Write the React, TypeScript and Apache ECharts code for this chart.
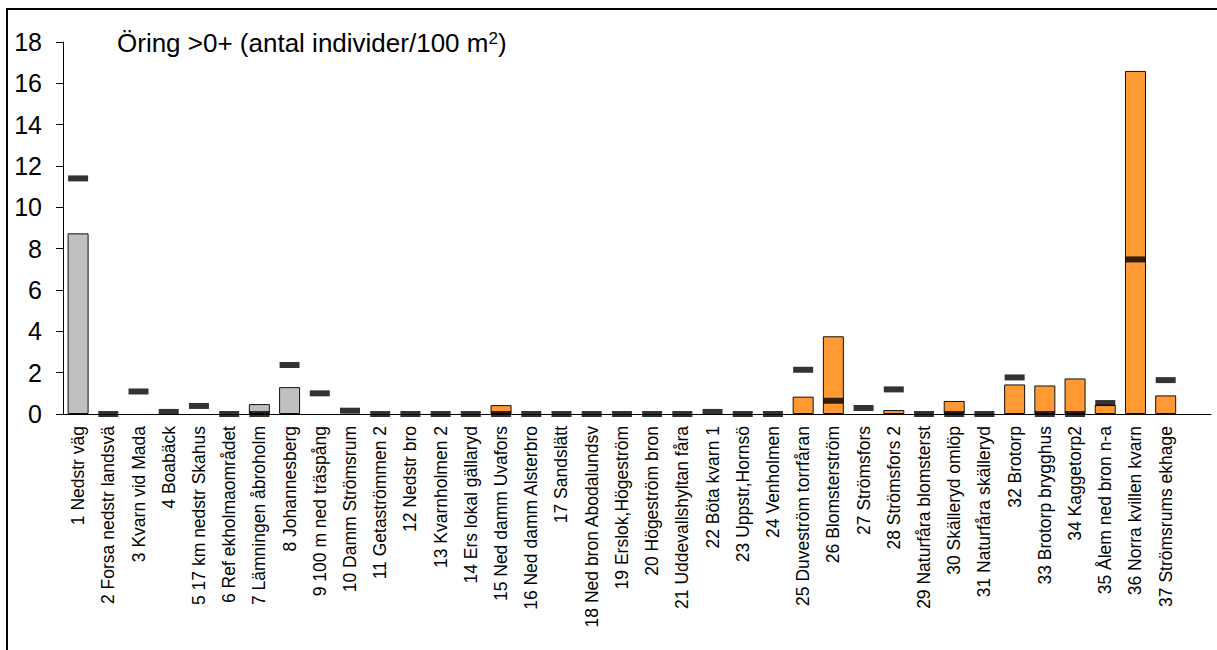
import React, { useEffect, useRef } from "react";
import * as echarts from "echarts";

const categories = [
  "1 Nedstr väg",
  "2 Forsa nedstr landsvä",
  "3 Kvarn vid Mada",
  "4 Boabäck",
  "5 17 km nedstr Skahus",
  "6 Ref ekholmaområdet",
  "7 Lämningen åbroholm",
  "8 Johannesberg",
  "9 100 m ned träspång",
  "10 Damm Strömsrum",
  "11 Getaströmmen 2",
  "12 Nedstr bro",
  "13 Kvarnholmen 2",
  "14 Ers lokal gällaryd",
  "15 Ned damm Uvafors",
  "16 Ned damm Alsterbro",
  "17 Sandslätt",
  "18 Ned bron Abodalundsv",
  "19 Erslok,Högeström",
  "20 Högeström bron",
  "21 Uddevallshyltan fåra",
  "22 Böta kvarn 1",
  "23 Uppstr,Hornsö",
  "24 Venholmen",
  "25 Duveström torrfåran",
  "26 Blomsterström",
  "27 Strömsfors",
  "28 Strömsfors 2",
  "29 Naturfåra blomsterst",
  "30 Skälleryd omlöp",
  "31 Naturfåra skälleryd",
  "32 Brotorp",
  "33 Brotorp brygghus",
  "34 Kaggetorp2",
  "35 Ålem ned bron n-a",
  "36 Norra kvillen kvarn",
  "37 Strömsrums ekhage",
  "",
];

// current year's value (bars)
const barValues: (number | null)[] = [
  8.74, null, null, null, null, null, 0.48, 1.3, null, null,
  null, null, null, null, 0.43, null, null, null, null, null,
  null, null, null, null, 0.84, 3.76, null, 0.19, null, 0.63,
  null, 1.43, 1.38, 1.72, 0.45, 16.6, 0.9, null,
];

// bar colour group: "g" = gray, "o" = orange
const barGroups = [
  "g", "g", "g", "g", "g", "g", "g", "g", "g", "g",
  "g", "g", "g", "g", "o", "o", "o", "o", "o", "o",
  "o", "o", "o", "o", "o", "o", "o", "o", "o", "o",
  "o", "o", "o", "o", "o", "o", "o", "o",
];

// comparison values (black dashes)
const markerValues: (number | null)[] = [
  11.4, 0, 1.09, 0.1, 0.39, 0, 0, 2.37, 1.0, 0.16,
  0, 0, 0, 0, 0, 0, 0, 0, 0, 0,
  0, 0.1, 0, 0, 2.14, 0.64, 0.29, 1.19, 0, 0,
  0, 1.77, 0, 0, 0.53, 7.48, 1.64, null,
];

const yTicks = [0, 2, 4, 6, 8, 10, 12, 14, 16, 18];

const groupColors: Record<string, string> = { g: "#c0c0c0", o: "#ff9933" };

export default function App() {
  const ref = useRef<HTMLDivElement>(null);
  useEffect(() => {
    if (!ref.current) return;
    const chart = echarts.init(ref.current, null, { renderer: "svg" });
    const font = "'Liberation Sans', Arial, sans-serif";
    chart.setOption({
      animation: false,
      backgroundColor: "#fff",
      textStyle: { fontFamily: font },
      grid: { left: 63, right: 6, top: 42, bottom: 236, containLabel: false },
      graphic: [
        {
          type: "rect",
          shape: { x: 7, y: 9, width: 1300, height: 700 },
          style: { fill: "none", stroke: "#000", lineWidth: 2 },
          silent: true,
        },
        {
          type: "text",
          x: 117,
          y: 43,
          style: {
            text: "Öring >0+ (antal individer/100 m{s|2})",
            font: `26px ${font}`,
            fill: "#000",
            verticalAlign: "middle",
            rich: {
              s: { fontSize: 17, fontFamily: font, fill: "#000", padding: [0, 0, 10, 0] },
            },
          },
        },
      ],
      xAxis: {
        type: "category",
        data: categories,
        boundaryGap: true,
        axisLine: { lineStyle: { color: "#000", width: 1 } },
        axisTick: { show: false },
        axisLabel: {
          interval: 0,
          rotate: 90,
          color: "#000",
          fontSize: 17.5,
          fontFamily: font,
          margin: 12,
        },
      },
      yAxis: {
        type: "value",
        min: yTicks[0],
        max: yTicks[yTicks.length - 1],
        interval: 2,
        splitLine: { show: false },
        axisLine: { show: true, lineStyle: { color: "#000", width: 1 } },
        axisTick: { show: true, length: 7, lineStyle: { color: "#000" } },
        axisLabel: { color: "#000", fontSize: 25, fontFamily: font, margin: 21 },
      },
      series: [
        {
          type: "bar",
          barWidth: 21,
          data: barValues.map((v, i) => ({
            value: v,
            itemStyle: {
              color: groupColors[barGroups[i]],
              borderColor: "#111",
              borderWidth: 1,
            },
          })),
          z: 2,
        },
        {
          type: "scatter",
          symbol: "rect",
          symbolSize: [20, 6],
          itemStyle: { color: "#000" },
          data: markerValues,
          z: 3,
        },
      ],
    });
    return () => chart.dispose();
  }, []);
  return (
    <div style={{ position: "absolute", left: 0, top: 0, width: 1217, height: 650 }}>
      <div ref={ref} style={{ width: 1217, height: 650 }} />
    </div>
  );
}
